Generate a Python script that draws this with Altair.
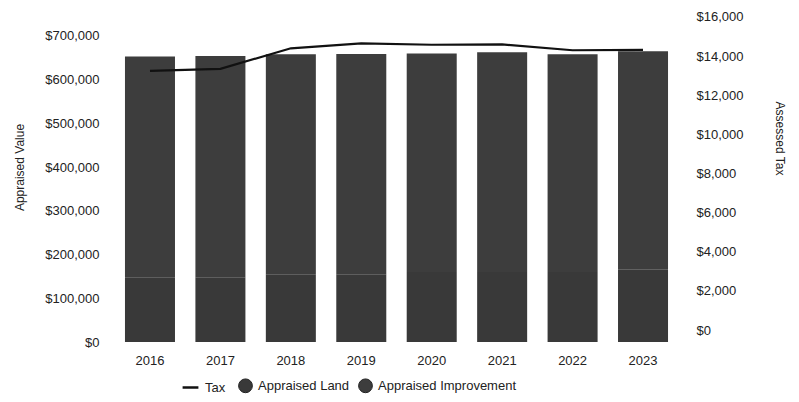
import altair as alt
import pandas as pd

years = ["2016", "2017", "2018", "2019", "2020", "2021", "2022", "2023"]
land = [148000, 148000, 155000, 155000, 160000, 160000, 160000, 165000]
improvement = [505000, 506000, 503000, 504000, 500000, 503000, 498000, 500000]
tax = [13250, 13350, 14400, 14650, 14580, 14600, 14300, 14320]

series_names = ["Appraised Land", "Appraised Improvement"]
series_colors = ["#393939", "#3d3d3d"]

rows = []
for i, y in enumerate(years):
    rows.append({"year": y, "type": series_names[0], "value": land[i], "ord": 0})
    rows.append({"year": y, "type": series_names[1], "value": improvement[i], "ord": 1})
bars_df = pd.DataFrame(rows)
tax_df = pd.DataFrame({"year": years, "tax": tax})

FONT = "Liberation Sans"
TXT = "#222222"

x_enc = alt.X("year:N", title=None, sort=years,
              scale=alt.Scale(paddingInner=0.29, paddingOuter=0.17),
              axis=alt.Axis(labelAngle=0, ticks=False, domain=False, labelPadding=12,
                            labelFontSize=13, labelColor=TXT, labelFont=FONT))

bars = alt.Chart(bars_df).mark_bar().encode(
    x=x_enc,
    y=alt.Y("value:Q", stack="zero",
            scale=alt.Scale(domain=[0, 752600], nice=False),
            axis=alt.Axis(title="Appraised Value", values=[0, 100000, 200000, 300000, 400000, 500000, 600000, 700000],
                          format="$,.0f", grid=False, ticks=False, domain=False,
                          labelPadding=14, titlePadding=18, titleY=154, labelFontSize=13, titleFontSize=12,
                          titleFontWeight="normal", labelColor=TXT, titleColor=TXT,
                          labelFont=FONT, titleFont=FONT)),
    color=alt.Color("type:N", scale=alt.Scale(domain=series_names, range=series_colors),
                    legend=alt.Legend(title=None, orient="none", direction="horizontal",
                                      legendX=125, legendY=365, symbolType="circle",
                                      symbolSize=190, symbolStrokeColor="#222222", symbolStrokeWidth=1,
                                      labelFontSize=13, labelColor=TXT, labelFont=FONT,
                                      columnPadding=6, labelOffset=5)),
    order=alt.Order("ord:Q"),
)

line = alt.Chart(tax_df).mark_line(strokeWidth=2.2).encode(
    x=alt.X("year:N", sort=years),
    y=alt.Y("tax:Q", scale=alt.Scale(domain=[-613, 16204], nice=False, zero=False),
            axis=alt.Axis(title="Assessed Tax", orient="right",
                          values=[0, 2000, 4000, 6000, 8000, 10000, 12000, 14000, 16000],
                          format="$,.0f", grid=False, ticks=False, domain=False,
                          labelPadding=16, titlePadding=30, titleY=125, labelFontSize=13, titleFontSize=12,
                          titleFontWeight="normal", labelColor=TXT, titleColor=TXT,
                          labelFont=FONT, titleFont=FONT)),
    stroke=alt.Stroke("s:N", scale=alt.Scale(domain=["Tax"], range=["#111111"]),
                      legend=alt.Legend(title=None, orient="none", direction="horizontal",
                                        legendX=68, legendY=365, symbolType="stroke",
                                        symbolStrokeWidth=2.5, symbolSize=250,
                                        labelFontSize=13, labelColor=TXT, labelFont=FONT,
                                        labelOffset=5)),
).transform_calculate(s="'Tax'")

chart = alt.layer(bars, line).resolve_scale(y="independent", color="independent").properties(
    width=567, height=329, padding={"left": 5, "top": 2, "right": 5, "bottom": 5}
).configure(background="white", view=alt.ViewConfig(stroke=None))

chart.save("out.html", embed_options={"renderer": "svg", "actions": False})
